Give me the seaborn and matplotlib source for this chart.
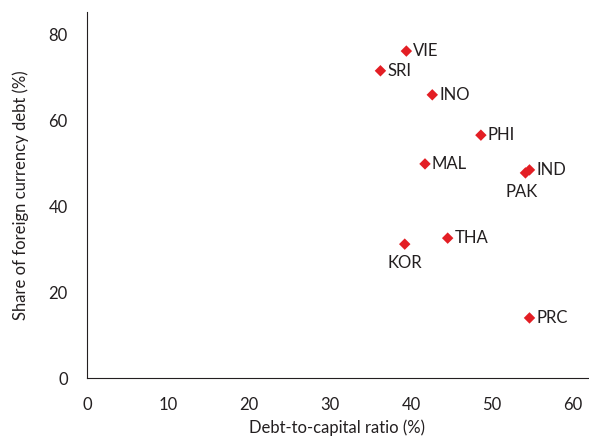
import numpy as np
import pandas as pd
import matplotlib
matplotlib.use('Agg')
import matplotlib.pyplot as plt
import seaborn as sns

# Economies and their values
economies = ['VIE', 'SRI', 'INO', 'PHI', 'MAL', 'IND', 'PAK', 'KOR', 'THA', 'PRC']
debt_to_capital = [39.4, 36.2, 42.6, 48.6, 41.7, 54.6, 54.1, 39.2, 44.5, 54.6]
foreign_share = [76.2, 71.6, 66.0, 56.6, 49.9, 48.5, 47.8, 31.2, 32.6, 14.0]

df = pd.DataFrame({'economy': economies, 'x': debt_to_capital, 'y': foreign_share})

sns.set_style('white')
plt.rcParams['font.family'] = ['Lato', 'DejaVu Sans']
text_color = '#231f20'

fig = plt.figure(figsize=(5.89, 4.37), dpi=100)
ax = fig.add_axes([0.148, 0.135, 0.85, 0.8375])

sns.scatterplot(data=df, x='x', y='y', marker='D', color='#e31e24', s=34,
                edgecolor='none', ax=ax, zorder=3)

# label placement offsets (points)
offsets = {'KOR': (0, -8, 'center', 'top'),
           'PAK': (-3, -8, 'center', 'top')}
for name, xv, yv in zip(economies, debt_to_capital, foreign_share):
    if name in offsets:
        dx, dy, ha, va = offsets[name]
    else:
        dx, dy, ha, va = (5, 0, 'left', 'center')
    ax.annotate(name, (xv, yv), xytext=(dx, dy), textcoords='offset points',
                ha=ha, va=va, fontsize=12, color=text_color)

ax.set_xlim(0, 61.8)
ax.set_ylim(0, 85.3)
ax.set_xticks(range(0, 61, 10))
ax.set_yticks(range(0, 81, 20))
ax.tick_params(axis='x', length=0, labelsize=12, colors=text_color, pad=14)
ax.tick_params(axis='y', length=0, labelsize=12, colors=text_color, pad=14)
ax.set_xlabel('Debt-to-capital ratio (%)', fontsize=12, color=text_color, labelpad=4)
ax.set_ylabel('Share of foreign currency debt (%)', fontsize=12, color=text_color, labelpad=14)

sns.despine(ax=ax)
for side in ['left', 'bottom']:
    ax.spines[side].set_color(text_color)
    ax.spines[side].set_linewidth(0.8)

fig.savefig('out.png', dpi=100)
